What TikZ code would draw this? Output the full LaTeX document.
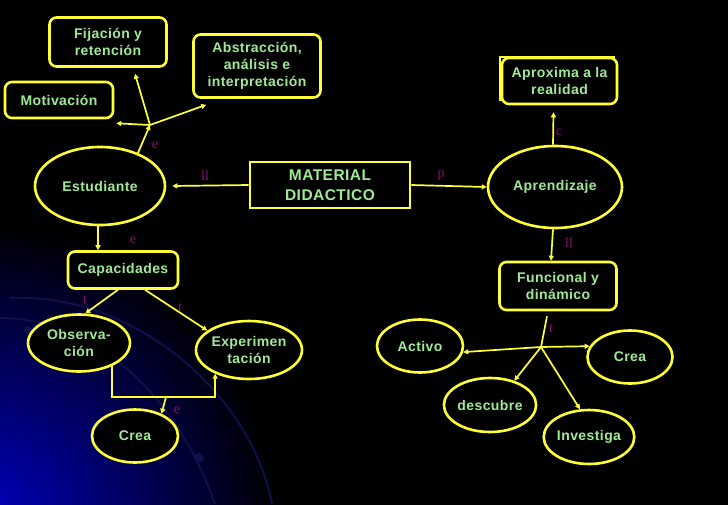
\documentclass[tikz,border=0pt]{standalone}
\usepackage{fontspec}
\setmainfont{Liberation Sans}[LetterSpace=3]
\newfontfamily\labfont{Liberation Serif}
\usetikzlibrary{shapes.geometric,arrows.meta,calc}
\definecolor{yel}{RGB}{255,255,51}
\definecolor{txtg}{RGB}{160,234,150}
\definecolor{labc}{RGB}{140,15,110}
\definecolor{arcc}{RGB}{16,16,72}
\definecolor{bgblue}{RGB}{0,0,200}
\tikzset{
  box/.style={draw=yel, line width=2.6pt, rounded corners=7pt, fill=black, text=txtg,
    font=\fontsize{14}{17}\selectfont\bfseries, align=center, inner sep=0pt},
  sbox/.style={box, rounded corners=0pt},
  ell/.style={ellipse, draw=yel, line width=2.6pt, fill=black, text=txtg,
    font=\fontsize{14}{17}\selectfont\bfseries, align=center, inner sep=0pt},
  arr/.style={draw=yel, line width=1.7pt, -{Triangle[length=5pt,width=5pt]}},
  ln/.style={draw=yel, line width=1.7pt},
  lab/.style={text=labc, font=\labfont\fontsize{14}{14}\selectfont, inner sep=0pt}
}
\begin{document}
\begin{tikzpicture}[x=1pt,y=-1pt]
\useasboundingbox (0,0) rectangle (728,504);
% background
\fill[black] (-5,-5) rectangle (733,509);
\begin{scope}
\clip (-5,-5) rectangle (733,509);
\shade[inner color=bgblue, outer color=black] (-30,530) circle (310);
\draw[arcc, line width=2pt] (0,318) .. controls (90,318) and (175,390) .. (215,504);
\draw[arcc, line width=2pt] (10,298) .. controls (130,292) and (250,390) .. (272,504);
\fill[arcc] (28,330) circle (4);
\fill[arcc] (105,328) circle (5);
\fill[arcc] (199,458) circle (5);
\end{scope}

% nodes
\node[box, minimum width=117pt, minimum height=49pt] (fij) at (108,42) {Fijación y\\retención};
\node[box, minimum width=127pt, minimum height=63pt] (abs) at (257,66) {Abstracción,\\análisis e\\interpretación};
\node[box, minimum width=108pt, minimum height=36pt] (mot) at (59,100) {Motivación};
\node[ell, minimum width=130pt, minimum height=78pt] (est) at (100,186) {\raisebox{-4pt}{Estudiante}};
\node[sbox, minimum width=160pt, minimum height=46pt, font=\fontsize{15.5}{20}\selectfont\bfseries] (mat) at (330,185) {MATERIAL\\DIDACTICO};
\node[ell, minimum width=134pt, minimum height=82pt] (apr) at (555,187) {Aprendizaje};
\draw[yel, line width=2.6pt] (500,57) rectangle (614,100);
\node[box, minimum width=115pt, minimum height=46pt] (aprox) at (559.5,81) {Aproxima a la\\realidad};
\node[box, minimum width=117pt, minimum height=48pt] (func) at (558,286) {Funcional y\\dinámico};
\node[box, minimum width=110pt, minimum height=37pt] (cap) at (123,270) {Capacidades};
\node[ell, minimum width=102pt, minimum height=57pt] (obs) at (79,343) {Observa-\\ción};
\node[ell, minimum width=102pt, minimum height=58pt] (exp) at (249,350) {Experimen\\tación};
\node[ell, minimum width=86pt, minimum height=53pt] (crea1) at (135,436) {Crea};
\node[ell, minimum width=86pt, minimum height=53pt] (act) at (420,346) {Activo};
\node[ell, minimum width=85pt, minimum height=53pt] (crea2) at (630,357) {Crea};
\node[ell, minimum width=85pt, minimum height=54pt] (des) at (490,405) {descubre};
\node[ell, minimum width=85pt, minimum height=54pt] (inv) at (589,437) {Investiga};

% junctions
\coordinate (j1) at (150,125);
\coordinate (j2) at (541,347);
\coordinate (m1) at (166,397);

% connectors
\draw[arr] (est.41) -- (j1);
\draw[arr] (j1) -- ([xshift=2pt,yshift=-4pt]mot.south east);
\draw[arr] (j1) -- ([xshift=27pt,yshift=-6pt]fij.south);
\draw[arr] (j1) -- ([xshift=14pt,yshift=-6pt]abs.south west);
\draw[arr] (mat.west) -- ([xshift=6pt]est.east);
\draw[arr] (mat.east) -- (apr.west);
\draw[arr] ([xshift=-2pt]apr.north) -- ([xshift=-6pt,yshift=-7pt]aprox.south);
\draw[arr] ([xshift=-2pt]apr.south) -- ([xshift=-7pt]func.north);
\draw[arr] (est.south) ++(-2,0) coordinate (es) -- (es |- cap.north);
\draw[arr] ([xshift=-5pt]cap.south) -- (obs.78);
\draw[arr] ([xshift=22pt]cap.south) -- (exp.155);
\draw[arr, line width=2.4pt] (obs.-35) |- (m1) -| (exp.-145);
\draw[arr] (m1) -- (crea1.40);
\draw[ln] ([xshift=-11pt,yshift=-5pt]func.south) -- (j2);
\draw[arr] (j2) -- (act.-8);
\draw[arr] (j2) -- (crea2.165);
\draw[arr] (j2) -- (des.45);
\draw[arr] (j2) -- (inv.108);

% labels
\node[lab] (l1) at (155,145) {e};
\node[lab] (l2) at (205,176) {ll};
\node[lab] (l3) at (441,176) {p};
\node[lab] (l4) at (559,132) {c};
\node[lab] (l5) at (569,243) {ll};
\node[lab] (l6) at (133,240) {e};
\node[lab] (l7) at (85,300) {t};
\node[lab] (l8) at (180,308) {t};
\node[lab] (l9) at (177,410) {e};
\node[lab] (l10) at (551,329) {t};
\end{tikzpicture}
\end{document}
